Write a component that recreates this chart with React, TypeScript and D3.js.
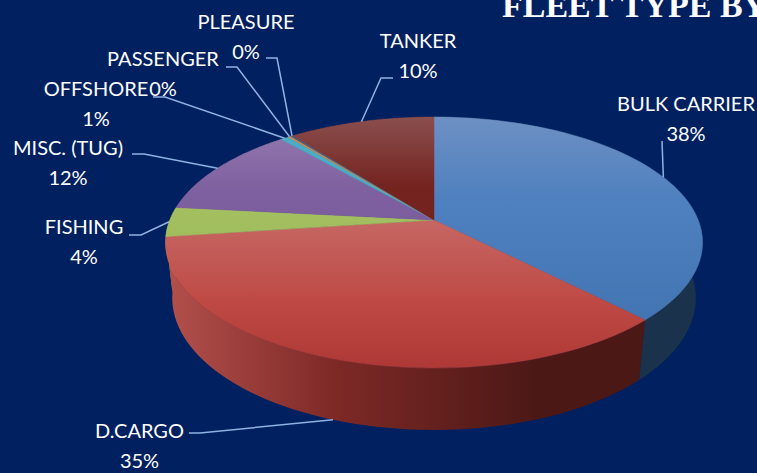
import React from 'react';
import * as d3 from 'd3';

const width = 757;
const height = 473;

const categories = ['BULK CARRIER', 'D.CARGO', 'FISHING', 'MISC. (TUG)', 'OFFSHORE', 'PASSENGER', 'PLEASURE', 'TANKER'];
const shares = [37.7, 35.1, 3.8, 11.9, 0.6, 0.2, 0.2, 10.4];

// top face colours, light at the back of the disc to dark at the front
const topColors = [
  ['#6d90c3', '#4f80bf', '#3f70ae'],
  ['#ce8c8a', '#bf4a45', '#ad3835'],
  ['#a3bf60', '#a3bf60', '#92b24a'],
  ['#967cb0', '#7e5f9f', '#6f5096'],
  ['#4bacc6', '#4bacc6', '#4bacc6'],
  ['#c98a50', '#c98a50', '#c98a50'],
  ['#4a6080', '#4a6080', '#4a6080'],
  ['#8a4f4e', '#74231f', '#75211c'],
];
// where the middle colour sits between the back and the front of the disc
const topMid = [0.33, 0.73, 0.38, 0.3, 0.5, 0.5, 0.5, 0.28];
const wallColors = [
  ['#1d3550', '#1c3450', '#1b324c'],
  ['#b24f4b', '#7d2926', '#4b1815'],
  ['#8a9e4a', '#7d9040', '#7d9040'],
  ['#5a4276', '#5a4276', '#5a4276'],
  ['#357a8c', '#357a8c', '#357a8c'],
  ['#8a5a30', '#8a5a30', '#8a5a30'],
  ['#33445c', '#33445c', '#33445c'],
  ['#541814', '#541814', '#541814'],
];

// label centre + first baseline, then the two leader elbow points
const labelSpots = [
  { x: 686, y: 111, leader: [[662, 141], [662, 141]] },
  { x: 139.5, y: 438, leader: [[189, 433], [200, 433]] },
  { x: 84, y: 234, leader: [[129, 235], [141, 235]] },
  { x: 68, y: 155, leader: [[132, 154], [144, 154]] },
  { x: 96, y: 96, leader: [[153, 97], [165, 97]] },
  { x: 163, y: 66, leader: [[226, 67], [237, 67]] },
  { x: 246, y: 29, leader: [[266, 58], [277, 58]] },
  { x: 418, y: 48, leader: [[393, 78], [381, 78]] },
];

// perspective of the tilted disc: unit circle -> screen
const cx = 434;
const project = (angle: number, lower: boolean): [number, number] => {
  const ux = Math.sin(angle);
  const uy = -Math.cos(angle);
  const w = 1 - 0.1793 * uy + (lower ? 0.025 : 0);
  return [cx + (264.2 * ux) / w, (82 * uy + 220 + (lower ? 61.6 : 0)) / w];
};

const percent = d3.format('.0f');
const pie = d3.pie<number>().sort(null);
const slices = pie(shares);
const total = d3.sum(shares);
const line = d3.line();

const sample = (a0: number, a1: number, lower: boolean) =>
  d3.range(0, 61).map((i) => project(a0 + ((a1 - a0) * i) / 60, lower));

export default function App() {
  return (
    <svg width={width} height={height} style={{ position: 'absolute', left: 0, top: 0, background: '#002060' }}>
      <defs>
        {slices.map((s, i) => (
          <React.Fragment key={i}>
            <linearGradient id={'top' + i} gradientUnits="userSpaceOnUse" x1={0} y1={117} x2={0} y2={368}>
              <stop offset="0" stopColor={topColors[i][0]} />
              <stop offset={topMid[i]} stopColor={topColors[i][1]} />
              <stop offset="1" stopColor={topColors[i][2]} />
            </linearGradient>
            <linearGradient id={'wall' + i} gradientUnits="userSpaceOnUse" x1={170} y1={0} x2={540} y2={0}>
              <stop offset="0" stopColor={wallColors[i][0]} />
              <stop offset="0.45" stopColor={wallColors[i][1]} />
              <stop offset="1" stopColor={wallColors[i][2]} />
            </linearGradient>
          </React.Fragment>
        ))}
      </defs>

      {/* walls back to front, so the big red wall covers the sliver behind it */}
      {slices
        .map((s, i) => ({ s, i }))
        .reverse()
        .map(({ s, i }) => {
          const upper = sample(s.startAngle, s.endAngle, false);
          const bottom = sample(s.startAngle, s.endAngle, true).reverse();
          return <path key={i} d={line([...upper, ...bottom]) + 'Z'} fill={`url(#wall${i})`} />;
        })}

      {slices.map((s, i) => {
        const rim = sample(s.startAngle, s.endAngle, false);
        const centre: [number, number] = [cx, 220];
        return (
          <path
            key={i}
            d={line([centre, ...rim]) + 'Z'}
            fill={`url(#top${i})`}
            stroke={`url(#top${i})`}
            strokeWidth={0.5}
          />
        );
      })}

      {slices.map((s, i) => {
        const mid = (s.startAngle + s.endAngle) / 2;
        const frontWall = categories[i] === 'D.CARGO';
        const pts = [...labelSpots[i].leader, project(mid, frontWall)] as [number, number][];
        return <path key={i} d={line(pts) || ''} fill="none" stroke="#8db3e2" strokeWidth={1.5} />;
      })}

      <g fontFamily="Lato" fontSize={20} fill="#ffffff" textAnchor="middle">
        {slices.map((s, i) => (
          <text key={i} x={labelSpots[i].x} y={labelSpots[i].y}>
            <tspan x={labelSpots[i].x}>{categories[i]}</tspan>
            <tspan x={labelSpots[i].x} dy={29.5}>
              {percent((s.value / total) * 100)}%
            </tspan>
          </text>
        ))}
      </g>

      <text x={502} y={17} fontFamily="Liberation Serif" fontWeight="bold" fontSize={34} fill="#ffffff">
        FLEET TYPE BY
      </text>
    </svg>
  );
}
